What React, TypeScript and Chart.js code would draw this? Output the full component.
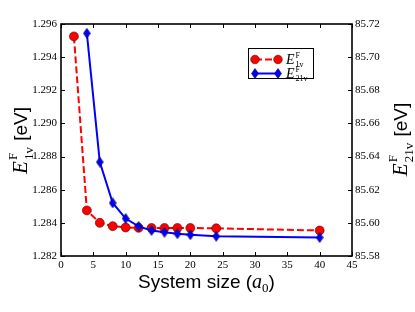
import React, { useEffect, useRef } from "react";
import { Chart, registerables } from "chart.js";
Chart.register(...registerables);

// System sizes (a0)
const sizes1v = [2, 4, 6, 8, 10, 12, 14, 16, 18, 20, 24, 40];
const e1v = [1.29525, 1.28475, 1.284, 1.2838, 1.28372, 1.2837, 1.28369, 1.28369, 1.28369, 1.28369, 1.28367, 1.28354];
const sizes21v = [4, 6, 8, 10, 12, 14, 16, 18, 20, 24, 40];
const e21v = [85.7144, 85.6367, 85.612, 85.6026, 85.5979, 85.5954, 85.5943, 85.5934, 85.5928, 85.5919, 85.5911];

const xTicks = [0, 5, 10, 15, 20, 25, 30, 35, 40, 45];
const leftTicks = [1.282, 1.284, 1.286, 1.288, 1.29, 1.292, 1.294, 1.296];
const rightTicks = [85.58, 85.6, 85.62, 85.64, 85.66, 85.68, 85.7, 85.72];

const SERIF = '"Liberation Serif"';
const SANS = '"Liberation Sans"';

function makeDiamond(): HTMLCanvasElement {
  const c = document.createElement("canvas");
  const w = 8, h = 11;
  c.width = w; c.height = h;
  const g = c.getContext("2d")!;
  g.beginPath();
  g.moveTo(w / 2, 0.5);
  g.lineTo(w - 0.5, h / 2);
  g.lineTo(w / 2, h - 0.5);
  g.lineTo(0.5, h / 2);
  g.closePath();
  g.fillStyle = "#0000ff";
  g.fill();
  g.strokeStyle = "#000033";
  g.lineWidth = 0.6;
  g.stroke();
  return c;
}

function drawEF(ctx: CanvasRenderingContext2D, x: number, y: number, sub: string, size: number, tail: string, tailFont: string, align: "center" | "left", sRatio = 0.64, supK = 0.47, subK = 0.3) {
  const eFont = `italic ${size}px ${SERIF}`;
  const sSize = Math.round(size * sRatio);
  const sFont = `${sSize}px ${SERIF}`;
  ctx.font = eFont; const wE = ctx.measureText("E").width;
  ctx.font = sFont; const wF = ctx.measureText("F").width; const wS = ctx.measureText(sub).width;
  ctx.font = tailFont; const wT = ctx.measureText(tail).width;
  const wSS = Math.max(wF, wS) + 1;
  const total = wE + wSS + wT;
  let cx = align === "center" ? x - total / 2 : x;
  ctx.textAlign = "left";
  ctx.textBaseline = "alphabetic";
  ctx.font = eFont; ctx.fillText("E", cx, y); cx += wE + 1;
  ctx.font = sFont;
  ctx.fillText("F", cx, y - size * supK);
  ctx.fillText(sub, cx, y + size * subK);
  cx += wSS;
  ctx.font = tailFont; ctx.fillText(tail, cx, y);
}

const decoPlugin = {
  id: "deco",
  afterDraw(chart: any) {
    const ctx: CanvasRenderingContext2D = chart.ctx;
    const a = chart.chartArea;
    const xs = chart.scales.x, yl = chart.scales.y, yr = chart.scales.y2;
    ctx.save();
    ctx.strokeStyle = "#000";
    ctx.lineWidth = 1;
    const tl = 4;
    ctx.beginPath();
    xTicks.forEach((v) => {
      const px = Math.round(xs.getPixelForValue(v)) + 0.5;
      ctx.moveTo(px, a.bottom); ctx.lineTo(px, a.bottom - tl);
      ctx.moveTo(px, a.top); ctx.lineTo(px, a.top + tl);
    });
    leftTicks.forEach((v) => {
      const py = Math.round(yl.getPixelForValue(v)) + 0.5;
      ctx.moveTo(a.left, py); ctx.lineTo(a.left + tl, py);
    });
    rightTicks.forEach((v) => {
      const py = Math.round(yr.getPixelForValue(v)) + 0.5;
      ctx.moveTo(a.right, py); ctx.lineTo(a.right - tl, py);
    });
    ctx.stroke();
    ctx.lineWidth = 1.6;
    ctx.strokeRect(a.left, a.top, a.right - a.left, a.bottom - a.top);

    ctx.fillStyle = "#000";
    // x axis title
    {
      const big = `19px ${SANS}`;
      const parts = [
        { t: "System size (", f: big, dy: 0 },
        { t: "a", f: `italic 20px ${SERIF}`, dy: 0 },
        { t: "0", f: `13px ${SERIF}`, dy: 4 },
        { t: ")", f: big, dy: 0 },
      ];
      let tot = 0;
      const ws = parts.map((p) => { ctx.font = p.f; const w = ctx.measureText(p.t).width; tot += w; return w; });
      let cx = (a.left + a.right) / 2 - tot / 2;
      ctx.textAlign = "left"; ctx.textBaseline = "alphabetic";
      parts.forEach((p, i) => { ctx.font = p.f; ctx.fillText(p.t, cx, 288 + p.dy); cx += ws[i]; });
    }
    // left y title
    ctx.save();
    ctx.translate(27, (a.top + a.bottom) / 2 + 1);
    ctx.rotate(-Math.PI / 2);
    drawEF(ctx, 0, 0, "1v", 21, " [eV]", `19px ${SANS}`, "center");
    ctx.restore();
    // right y title
    ctx.save();
    ctx.translate(407, (a.top + a.bottom) / 2);
    ctx.rotate(-Math.PI / 2);
    drawEF(ctx, 0, 0, "21v", 21, " [eV]", `19px ${SANS}`, "center");
    ctx.restore();

    // legend
    const lx = 248.5, ly = 48.5, lw = 65, lh = 30;
    ctx.fillStyle = "#fff";
    ctx.fillRect(lx, ly, lw, lh);
    ctx.strokeStyle = "#000";
    ctx.lineWidth = 1;
    ctx.strokeRect(lx, ly, lw, lh);
    const r1 = 59.5, r2 = 73.5, x1 = 255, x2 = 278;
    ctx.strokeStyle = "#ff0000"; ctx.lineWidth = 2; ctx.setLineDash([7, 3]);
    ctx.beginPath(); ctx.moveTo(x1, r1); ctx.lineTo(x2, r1); ctx.stroke();
    ctx.setLineDash([]);
    [x1, x2].forEach((px) => {
      ctx.beginPath(); ctx.arc(px, r1, 4.3, 0, Math.PI * 2);
      ctx.fillStyle = "#ff0000"; ctx.fill();
      ctx.strokeStyle = "#550000"; ctx.lineWidth = 0.6; ctx.stroke();
    });
    ctx.strokeStyle = "#0000ff"; ctx.lineWidth = 2;
    ctx.beginPath(); ctx.moveTo(x1, r2); ctx.lineTo(x2, r2); ctx.stroke();
    const d = chart.$diamond as HTMLCanvasElement;
    [x1, x2].forEach((px) => ctx.drawImage(d, px - d.width / 2, r2 - d.height / 2));
    ctx.fillStyle = "#000";
    drawEF(ctx, 286, r1 + 4, "1v", 14, "", `14px ${SANS}`, "left", 0.6, 0.38, 0.22);
    drawEF(ctx, 286, r2 + 4, "21v", 14, "", `14px ${SANS}`, "left", 0.6, 0.38, 0.22);
    ctx.restore();
  },
};

export default function App() {
  const ref = useRef<HTMLCanvasElement>(null);
  useEffect(() => {
    document.body.style.margin = "0";
    const diamond = makeDiamond();
    const tickFont = { family: SERIF, size: 11 };
    const chart: any = new Chart(ref.current!, {
      type: "line",
      data: {
        datasets: [
          {
            label: "E1v",
            data: sizes1v.map((s, i) => ({ x: s, y: e1v[i] })),
            yAxisID: "y",
            borderColor: "#ff0000",
            borderWidth: 2,
            borderDash: [7, 3],
            pointStyle: "circle",
            pointRadius: 4.5,
            pointBackgroundColor: "#ff0000",
            pointBorderColor: "#550000",
            pointBorderWidth: 0.6,
            tension: 0,
            fill: false,
            order: 2,
          },
          {
            label: "E21v",
            data: sizes21v.map((s, i) => ({ x: s, y: e21v[i] })),
            yAxisID: "y2",
            borderColor: "#0000ff",
            borderWidth: 2,
            pointStyle: diamond as any,
            tension: 0,
            fill: false,
            order: 1,
          },
        ],
      },
      options: {
        animation: false,
        responsive: false,
        devicePixelRatio: 1,
        layout: { padding: { top: 24, left: 0, right: 0, bottom: 0 } },
        plugins: { legend: { display: false }, tooltip: { enabled: false } },
        scales: {
          x: {
            type: "linear",
            min: 0,
            max: 45,
            grid: { display: false, drawTicks: false },
            border: { display: false },
            afterBuildTicks: (s: any) => { s.ticks = xTicks.map((v) => ({ value: v })); },
            afterFit: (s: any) => { s.height = 56; },
            ticks: { font: tickFont, color: "#000", padding: 3, maxRotation: 0, autoSkip: false, callback: (v: any) => String(v) },
          },
          y: {
            type: "linear",
            position: "left",
            min: 1.282,
            max: 1.296,
            grid: { display: false, drawTicks: false },
            border: { display: false },
            afterBuildTicks: (s: any) => { s.ticks = leftTicks.map((v) => ({ value: v })); },
            afterFit: (s: any) => { s.width = 61; },
            ticks: { font: tickFont, color: "#000", padding: 4, autoSkip: false, callback: (v: any) => Number(v).toFixed(3) },
          },
          y2: {
            type: "linear",
            position: "right",
            min: 85.58,
            max: 85.72,
            grid: { display: false, drawTicks: false },
            border: { display: false },
            afterBuildTicks: (s: any) => { s.ticks = rightTicks.map((v) => ({ value: v })); },
            afterFit: (s: any) => { s.width = 63; },
            ticks: { font: tickFont, color: "#000", padding: 3, autoSkip: false, callback: (v: any) => Number(v).toFixed(2) },
          },
        },
      },
      plugins: [
        {
          id: "diamondRef",
          beforeInit(c: any) { c.$diamond = diamond; },
        },
        decoPlugin,
      ],
    } as any);
    return () => chart.destroy();
  }, []);
  return <canvas ref={ref} width={415} height={312} style={{ display: "block" }} />;
}
